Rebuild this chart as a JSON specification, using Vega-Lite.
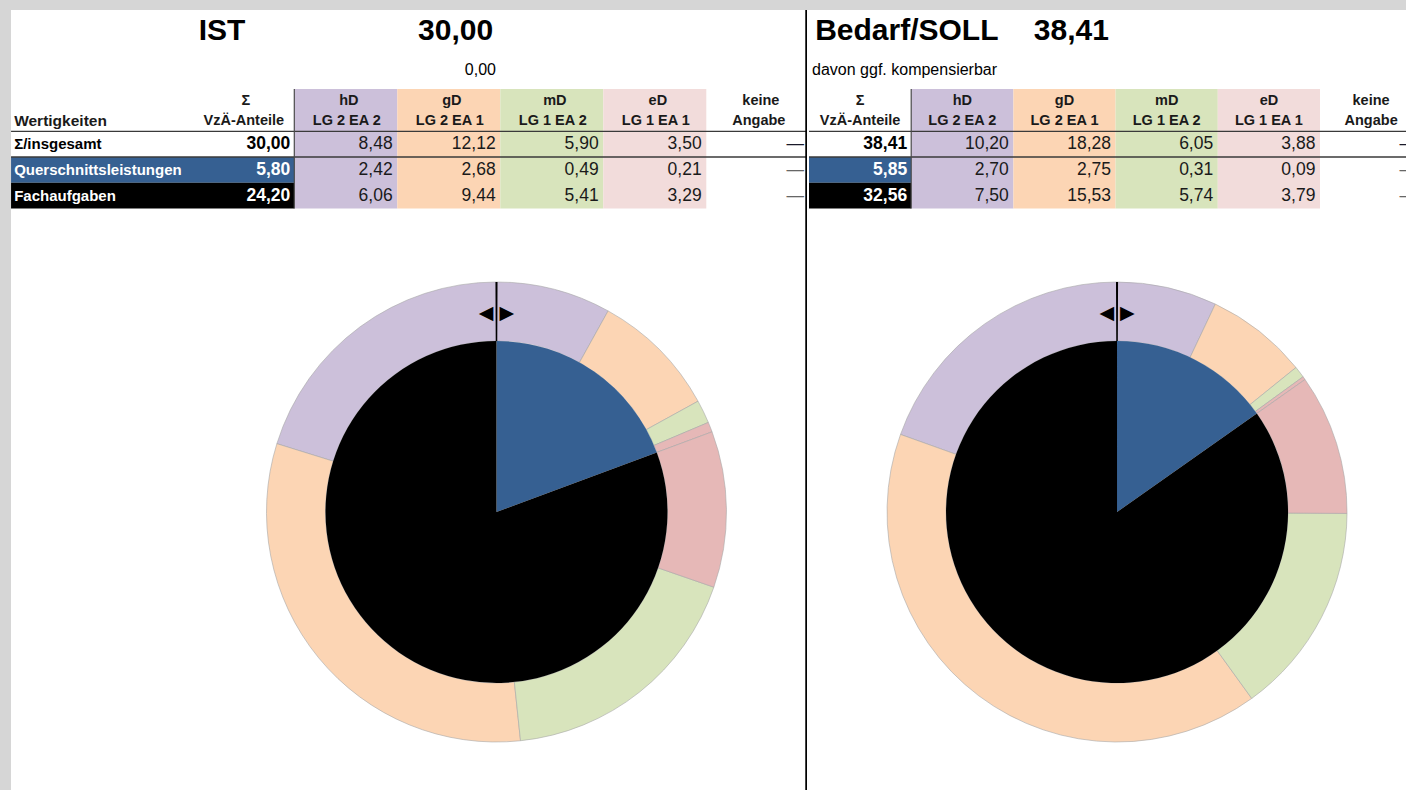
{
  "$schema": "https://vega.github.io/schema/vega-lite/v6.json",
  "background": "#d6d6d6",
  "padding": {"left": 10, "top": 8, "right": 0, "bottom": 0},
  "bounds": "flush",
  "spacing": 0,
  "columns": 2,
  "config": {
    "font": "Liberation Sans",
    "view": {"stroke": null, "fill": "white"},
    "axis": {"disable": true},
    "legend": {"disable": true},
    "concat": {"spacing": 0},
    "locale": {"number": {"decimal": ",", "thousands": ".", "grouping": [3], "currency": ["", " €"]}}
  },
  "datasets": {
    "cells": [
      {"panel": "IST", "row": "total", "col": "Σ", "v": 30.00},
      {"panel": "IST", "row": "total", "col": "hD", "v": 8.48},
      {"panel": "IST", "row": "total", "col": "gD", "v": 12.12},
      {"panel": "IST", "row": "total", "col": "mD", "v": 5.90},
      {"panel": "IST", "row": "total", "col": "eD", "v": 3.50},
      {"panel": "IST", "row": "qs", "col": "Σ", "v": 5.80, "ring": 1},
      {"panel": "IST", "row": "qs", "col": "hD", "v": 2.42, "ring": 1},
      {"panel": "IST", "row": "qs", "col": "gD", "v": 2.68, "ring": 2},
      {"panel": "IST", "row": "qs", "col": "mD", "v": 0.49, "ring": 3},
      {"panel": "IST", "row": "qs", "col": "eD", "v": 0.21, "ring": 4},
      {"panel": "IST", "row": "fach", "col": "Σ", "v": 24.20, "ring": 2},
      {"panel": "IST", "row": "fach", "col": "hD", "v": 6.06, "ring": 8},
      {"panel": "IST", "row": "fach", "col": "gD", "v": 9.44, "ring": 7},
      {"panel": "IST", "row": "fach", "col": "mD", "v": 5.41, "ring": 6},
      {"panel": "IST", "row": "fach", "col": "eD", "v": 3.29, "ring": 5},
      {"panel": "SOLL", "row": "total", "col": "Σ", "v": 38.41},
      {"panel": "SOLL", "row": "total", "col": "hD", "v": 10.20},
      {"panel": "SOLL", "row": "total", "col": "gD", "v": 18.28},
      {"panel": "SOLL", "row": "total", "col": "mD", "v": 6.05},
      {"panel": "SOLL", "row": "total", "col": "eD", "v": 3.88},
      {"panel": "SOLL", "row": "qs", "col": "Σ", "v": 5.85, "ring": 1},
      {"panel": "SOLL", "row": "qs", "col": "hD", "v": 2.70, "ring": 1},
      {"panel": "SOLL", "row": "qs", "col": "gD", "v": 2.75, "ring": 2},
      {"panel": "SOLL", "row": "qs", "col": "mD", "v": 0.31, "ring": 3},
      {"panel": "SOLL", "row": "qs", "col": "eD", "v": 0.09, "ring": 4},
      {"panel": "SOLL", "row": "fach", "col": "Σ", "v": 32.56, "ring": 2},
      {"panel": "SOLL", "row": "fach", "col": "hD", "v": 7.50, "ring": 8},
      {"panel": "SOLL", "row": "fach", "col": "gD", "v": 15.53, "ring": 7},
      {"panel": "SOLL", "row": "fach", "col": "mD", "v": 5.74, "ring": 6},
      {"panel": "SOLL", "row": "fach", "col": "eD", "v": 3.79, "ring": 5}
    ],
    "cols": [
      {"col": "Σ", "l1": "Σ", "l2": "VzÄ-Anteile"},
      {"col": "hD", "l1": "hD", "l2": "LG 2 EA 2"},
      {"col": "gD", "l1": "gD", "l2": "LG 2 EA 1"},
      {"col": "mD", "l1": "mD", "l2": "LG 1 EA 2"},
      {"col": "eD", "l1": "eD", "l2": "LG 1 EA 1"},
      {"col": "keine", "l1": "keine", "l2": "Angabe"}
    ],
    "rows": [
      {"row": "total", "label": "Σ/insgesamt"},
      {"row": "qs", "label": "Querschnittsleistungen"},
      {"row": "fach", "label": "Fachaufgaben"}
    ],
    "titles": [
      {"panel": "IST", "title": "IST", "total": 30.00, "sub": 0.00, "head": "Wertigkeiten"},
      {"panel": "SOLL", "title": "Bedarf/SOLL", "total": 38.41, "note": "davon ggf. kompensierbar"}
    ],
    "one": [{"mark": "start"}]
  },
  "resolve": {"scale": {"color": "independent", "theta": "independent"}},
  "concat": [
    {
      "width": 796,
      "height": 222,
      "layer": [
        {
          "data": {"name": "cols"},
          "transform": [{"filter": "datum.col !== 'Σ' && datum.col !== 'keine'"}],
          "mark": {"type": "rect"},
          "encoding": {
            "x": {"field": "col", "type": "nominal", "scale": {"type": "band", "domain": ["lab0", "lab", "Σ", "hD", "gD", "mD", "eD", "keine"], "range": [-25.7, 798.3], "paddingInner": 0, "paddingOuter": 0}},
            "y": {"datum": "head1", "type": "nominal", "bandPosition": 0.354, "scale": {"type": "band", "domain": ["title", "sub", "head1", "head2", "total", "qs", "fach"], "range": [18.5, 198.4], "paddingInner": 0, "paddingOuter": 0}},
            "y2": {"datum": "fach", "bandPosition": 1},
            "color": {"field": "col", "type": "nominal", "scale": {"domain": ["hD", "gD", "mD", "eD", "qs", "fach"], "range": ["#CCC0DA", "#FCD5B4", "#D8E4BC", "#F2DCDB", "#366092", "#000000"]}, "legend": null}
          }
        },
        {
          "data": {"name": "rows"},
          "transform": [{"filter": "datum.row !== 'total'"}],
          "mark": {"type": "rect"},
          "encoding": {
            "x": {"datum": "lab0", "type": "nominal", "bandPosition": 0.25},
            "x2": {"datum": "Σ", "bandPosition": 1},
            "y": {"field": "row", "type": "nominal"},
            "color": {"field": "row", "type": "nominal", "legend": null}
          }
        },
        {
          "data": {"name": "rows"},
          "transform": [{"filter": "datum.row !== 'fach'"}],
          "mark": {"type": "rule", "color": "#3a3a3a", "strokeWidth": 1.3},
          "encoding": {
            "x": {"datum": "lab0", "type": "nominal", "bandPosition": 0.25},
            "x2": {"datum": "keine", "bandPosition": 0.973},
            "y": {"field": "row", "type": "nominal", "bandPosition": 0}
          }
        },
        {
          "data": {"name": "one"},
          "mark": {"type": "rule", "color": "#4a4a4a", "strokeWidth": 1.2},
          "encoding": {
            "x": {"datum": "hD", "type": "nominal", "bandPosition": 0},
            "y": {"datum": "head1", "type": "nominal", "bandPosition": 0.354},
            "y2": {"datum": "fach", "bandPosition": 1}
          }
        },
        {
          "data": {"name": "one"},
          "mark": {"type": "rule", "color": "#000000", "strokeWidth": 2.5},
          "encoding": {
            "x": {"datum": "keine", "type": "nominal", "bandPosition": 0.973}
          }
        },
        {
          "data": {"name": "titles"},
          "transform": [{"filter": "datum.panel === 'IST'"}],
          "mark": {"type": "text", "fontSize": 30, "fontWeight": "bold", "align": "center", "baseline": "middle", "color": "#000000"},
          "encoding": {
            "x": {"datum": "Σ", "type": "nominal", "bandPosition": 0.298},
            "y": {"datum": "title", "type": "nominal", "bandPosition": 0.1},
            "text": {"field": "title"}
          }
        },
        {
          "data": {"name": "titles"},
          "transform": [{"filter": "datum.panel === 'IST'"}],
          "mark": {"type": "text", "fontSize": 30, "fontWeight": "bold", "align": "right", "baseline": "middle", "color": "#000000"},
          "encoding": {
            "x": {"datum": "gD", "type": "nominal", "bandPosition": 0.93},
            "y": {"datum": "title", "type": "nominal", "bandPosition": 0.1},
            "text": {"field": "total", "type": "quantitative", "format": ".2f"}
          }
        },
        {
          "data": {"name": "titles"},
          "transform": [{"filter": "datum.panel === 'IST'"}],
          "mark": {"type": "text", "fontSize": 16, "align": "right", "baseline": "middle", "color": "#000000"},
          "encoding": {
            "x": {"datum": "gD", "type": "nominal", "bandPosition": 0.958},
            "y": {"datum": "sub", "type": "nominal", "bandPosition": 0.61},
            "text": {"field": "sub", "type": "quantitative", "format": ".2f"}
          }
        },
        {
          "data": {"name": "cols"},
          "mark": {"type": "text", "fontSize": 14.5, "fontWeight": "bold", "align": "center", "baseline": "middle", "color": "#1a1a1a"},
          "encoding": {
            "x": {"field": "col", "type": "nominal", "bandPosition": 0.53},
            "y": {"datum": "head1", "type": "nominal", "bandPosition": 0.82},
            "text": {"field": "l1"}
          }
        },
        {
          "data": {"name": "cols"},
          "mark": {"type": "text", "fontSize": 14.5, "fontWeight": "bold", "align": "center", "baseline": "middle", "color": "#1a1a1a"},
          "encoding": {
            "x": {"field": "col", "type": "nominal", "bandPosition": 0.51},
            "y": {"datum": "head2", "type": "nominal", "bandPosition": 0.6},
            "text": {"field": "l2"}
          }
        },
        {
          "data": {"name": "titles"},
          "transform": [{"filter": "datum.panel === 'IST'"}],
          "mark": {"type": "text", "fontSize": 15.5, "fontWeight": "bold", "align": "left", "baseline": "middle", "color": "#1a1a1a"},
          "encoding": {
            "x": {"datum": "lab0", "type": "nominal", "bandPosition": 0.28},
            "y": {"datum": "head2", "type": "nominal", "bandPosition": 0.6},
            "text": {"field": "head"}
          }
        },
        {
          "data": {"name": "rows"},
          "mark": {"type": "text", "fontSize": 15, "fontWeight": "bold", "align": "left", "baseline": "middle"},
          "encoding": {
            "x": {"datum": "lab0", "type": "nominal", "bandPosition": 0.28},
            "y": {"field": "row", "type": "nominal"},
            "text": {"field": "label"},
            "color": {"condition": {"test": "datum.row !== 'total'", "value": "#ffffff"}, "value": "#000000"}
          }
        },
        {
          "data": {"name": "cells"},
          "transform": [{"filter": "datum.panel === 'IST' && datum.col === 'Σ'"}],
          "mark": {"type": "text", "fontSize": 17.5, "fontWeight": "bold", "align": "right", "baseline": "middle"},
          "encoding": {
            "x": {"field": "col", "type": "nominal", "bandPosition": 0.961},
            "y": {"field": "row", "type": "nominal"},
            "text": {"field": "v", "type": "quantitative", "format": ".2f"},
            "color": {"condition": {"test": "datum.row !== 'total'", "value": "#ffffff"}, "value": "#000000"}
          }
        },
        {
          "data": {"name": "cells"},
          "transform": [{"filter": "datum.panel === 'IST' && datum.col !== 'Σ'"}],
          "mark": {"type": "text", "fontSize": 17.5, "align": "right", "baseline": "middle", "color": "#1a1a1a"},
          "encoding": {
            "x": {"field": "col", "type": "nominal", "bandPosition": 0.955},
            "y": {"field": "row", "type": "nominal"},
            "text": {"field": "v", "type": "quantitative", "format": ".2f"}
          }
        },
        {
          "data": {"name": "rows"},
          "mark": {"type": "text", "text": "—", "fontSize": 17.5, "align": "right", "baseline": "middle"},
          "encoding": {
            "x": {"datum": "keine", "type": "nominal", "bandPosition": 0.948},
            "y": {"field": "row", "type": "nominal"},
            "color": {"condition": {"test": "datum.row === 'total'", "value": "#1a1a2a"}, "value": "#666666"}
          }
        }
      ]
    },
    {
      "width": 600,
      "height": 222,
      "layer": [
        {
          "data": {"name": "cols"},
          "transform": [{"filter": "datum.col !== 'Σ' && datum.col !== 'keine'"}],
          "mark": {"type": "rect", "clip": true},
          "encoding": {
            "x": {"field": "col", "type": "nominal", "scale": {"type": "band", "domain": ["Σ", "hD", "gD", "mD", "eD", "keine"], "range": [2, 615.2], "paddingInner": 0, "paddingOuter": 0}},
            "y": {"datum": "head1", "type": "nominal", "bandPosition": 0.354, "scale": {"type": "band", "domain": ["title", "sub", "head1", "head2", "total", "qs", "fach"], "range": [18.5, 198.4], "paddingInner": 0, "paddingOuter": 0}},
            "y2": {"datum": "fach", "bandPosition": 1},
            "color": {"field": "col", "type": "nominal", "scale": {"domain": ["hD", "gD", "mD", "eD", "qs", "fach"], "range": ["#CCC0DA", "#FCD5B4", "#D8E4BC", "#F2DCDB", "#366092", "#000000"]}, "legend": null}
          }
        },
        {
          "data": {"name": "rows"},
          "transform": [{"filter": "datum.row !== 'total'"}],
          "mark": {"type": "rect", "clip": true},
          "encoding": {
            "x": {"datum": "Σ", "type": "nominal"},
            "y": {"field": "row", "type": "nominal"},
            "color": {"field": "row", "type": "nominal", "legend": null}
          }
        },
        {
          "data": {"name": "rows"},
          "transform": [{"filter": "datum.row !== 'fach'"}],
          "mark": {"type": "rule", "color": "#3a3a3a", "strokeWidth": 1.3, "clip": true},
          "encoding": {
            "x": {"datum": "Σ", "type": "nominal", "bandPosition": 0},
            "x2": {"datum": "keine", "bandPosition": 1},
            "y": {"field": "row", "type": "nominal", "bandPosition": 0}
          }
        },
        {
          "data": {"name": "one"},
          "mark": {"type": "rule", "color": "#4a4a4a", "strokeWidth": 1.2, "clip": true},
          "encoding": {
            "x": {"datum": "hD", "type": "nominal", "bandPosition": 0},
            "y": {"datum": "head1", "type": "nominal", "bandPosition": 0.354},
            "y2": {"datum": "fach", "bandPosition": 1}
          }
        },
        {
          "data": {"name": "titles"},
          "transform": [{"filter": "datum.panel === 'SOLL'"}],
          "mark": {"type": "text", "fontSize": 30, "fontWeight": "bold", "align": "left", "baseline": "middle", "color": "#000000", "clip": true},
          "encoding": {
            "x": {"datum": "Σ", "type": "nominal", "bandPosition": 0.06},
            "y": {"datum": "title", "type": "nominal", "bandPosition": 0.1},
            "text": {"field": "title"}
          }
        },
        {
          "data": {"name": "titles"},
          "transform": [{"filter": "datum.panel === 'SOLL'"}],
          "mark": {"type": "text", "fontSize": 30, "fontWeight": "bold", "align": "left", "baseline": "middle", "color": "#000000", "clip": true},
          "encoding": {
            "x": {"datum": "gD", "type": "nominal", "bandPosition": 0.2},
            "y": {"datum": "title", "type": "nominal", "bandPosition": 0.1},
            "text": {"field": "total", "type": "quantitative", "format": ".2f"}
          }
        },
        {
          "data": {"name": "titles"},
          "transform": [{"filter": "datum.panel === 'SOLL'"}],
          "mark": {"type": "text", "fontSize": 16, "align": "left", "baseline": "middle", "color": "#000000", "clip": true},
          "encoding": {
            "x": {"datum": "Σ", "type": "nominal", "bandPosition": 0.03},
            "y": {"datum": "sub", "type": "nominal", "bandPosition": 0.61},
            "text": {"field": "note"}
          }
        },
        {
          "data": {"name": "cols"},
          "mark": {"type": "text", "fontSize": 14.5, "fontWeight": "bold", "align": "center", "baseline": "middle", "color": "#1a1a1a", "clip": true},
          "encoding": {
            "x": {"field": "col", "type": "nominal", "bandPosition": 0.5},
            "y": {"datum": "head1", "type": "nominal", "bandPosition": 0.82},
            "text": {"field": "l1"}
          }
        },
        {
          "data": {"name": "cols"},
          "mark": {"type": "text", "fontSize": 14.5, "fontWeight": "bold", "align": "center", "baseline": "middle", "color": "#1a1a1a", "clip": true},
          "encoding": {
            "x": {"field": "col", "type": "nominal", "bandPosition": 0.5},
            "y": {"datum": "head2", "type": "nominal", "bandPosition": 0.6},
            "text": {"field": "l2"}
          }
        },
        {
          "data": {"name": "cells"},
          "transform": [{"filter": "datum.panel === 'SOLL' && datum.col === 'Σ'"}],
          "mark": {"type": "text", "fontSize": 17.5, "fontWeight": "bold", "align": "right", "baseline": "middle", "clip": true},
          "encoding": {
            "x": {"field": "col", "type": "nominal", "bandPosition": 0.96},
            "y": {"field": "row", "type": "nominal"},
            "text": {"field": "v", "type": "quantitative", "format": ".2f"},
            "color": {"condition": {"test": "datum.row !== 'total'", "value": "#ffffff"}, "value": "#000000"}
          }
        },
        {
          "data": {"name": "cells"},
          "transform": [{"filter": "datum.panel === 'SOLL' && datum.col !== 'Σ'"}],
          "mark": {"type": "text", "fontSize": 17.5, "align": "right", "baseline": "middle", "color": "#1a1a1a", "clip": true},
          "encoding": {
            "x": {"field": "col", "type": "nominal", "bandPosition": 0.955},
            "y": {"field": "row", "type": "nominal"},
            "text": {"field": "v", "type": "quantitative", "format": ".2f"}
          }
        },
        {
          "data": {"name": "rows"},
          "mark": {"type": "text", "text": "—", "fontSize": 17.5, "align": "right", "baseline": "middle", "clip": true},
          "encoding": {
            "x": {"datum": "keine", "type": "nominal", "bandPosition": 0.948},
            "y": {"field": "row", "type": "nominal"},
            "color": {"condition": {"test": "datum.row === 'total'", "value": "#1a1a2a"}, "value": "#666666"}
          }
        }
      ]
    },
    {
      "width": 796,
      "height": 560,
      "layer": [
        {
          "data": {"name": "cells"},
          "transform": [{"filter": "datum.panel === 'IST' && datum.row !== 'total' && datum.col !== 'Σ'"}],
          "mark": {"type": "arc", "radius": 230, "radius2": 171, "stroke": "#a8a8a8", "strokeWidth": 0.6},
          "encoding": {
            "x": {"datum": "gD", "type": "nominal", "bandPosition": 0.963, "scale": {"type": "band", "domain": ["lab0", "lab", "Σ", "hD", "gD", "mD", "eD", "keine"], "range": [-25.7, 798.3], "paddingInner": 0, "paddingOuter": 0}},
            "theta": {"field": "v", "type": "quantitative", "stack": true},
            "order": {"field": "ring", "type": "quantitative"},
            "color": {"field": "col", "type": "nominal", "scale": {"domain": ["hD", "gD", "mD", "eD", "qs", "fach"], "range": ["#CCC0DA", "#FCD5B4", "#D8E4BC", "#E6B8B7", "#366092", "#000000"]}, "legend": null}
          }
        },
        {
          "data": {"name": "cells"},
          "transform": [{"filter": "datum.panel === 'IST' && datum.row !== 'total' && datum.col === 'Σ'"}],
          "mark": {"type": "arc", "radius": 171},
          "encoding": {
            "x": {"datum": "gD", "type": "nominal", "bandPosition": 0.963},
            "theta": {"field": "v", "type": "quantitative", "stack": true},
            "order": {"field": "ring", "type": "quantitative"},
            "color": {"field": "row", "type": "nominal", "legend": null}
          }
        },
        {
          "data": {"name": "one"},
          "mark": {"type": "arc", "theta": -0.0045, "theta2": 0.0045, "radius": 230, "radius2": 171, "color": "#000000"},
          "encoding": {
            "x": {"datum": "gD", "type": "nominal", "bandPosition": 0.963}
          }
        },
        {
          "data": {"name": "one"},
          "mark": {"type": "text", "text": "◀", "font": "DejaVu Sans", "fontSize": 19, "align": "right", "baseline": "middle", "radius": 199.5, "theta": 0, "dx": -3, "color": "#000000"},
          "encoding": {
            "x": {"datum": "gD", "type": "nominal", "bandPosition": 0.963}
          }
        },
        {
          "data": {"name": "one"},
          "mark": {"type": "text", "text": "▶", "font": "DejaVu Sans", "fontSize": 19, "align": "left", "baseline": "middle", "radius": 199.5, "theta": 0, "dx": 3, "color": "#000000"},
          "encoding": {
            "x": {"datum": "gD", "type": "nominal", "bandPosition": 0.963}
          }
        },
        {
          "data": {"name": "one"},
          "mark": {"type": "rule", "color": "#000000", "strokeWidth": 2.5},
          "encoding": {
            "x": {"datum": "keine", "type": "nominal", "bandPosition": 0.973}
          }
        }
      ]
    },
    {
      "width": 600,
      "height": 560,
      "layer": [
        {
          "data": {"name": "cells"},
          "transform": [{"filter": "datum.panel === 'SOLL' && datum.row !== 'total' && datum.col !== 'Σ'"}],
          "mark": {"type": "arc", "radius": 230, "radius2": 171, "stroke": "#a8a8a8", "strokeWidth": 0.6},
          "encoding": {
            "x": {"datum": "mD", "type": "nominal", "bandPosition": 0.014, "scale": {"type": "band", "domain": ["Σ", "hD", "gD", "mD", "eD", "keine"], "range": [2, 615.2], "paddingInner": 0, "paddingOuter": 0}},
            "theta": {"field": "v", "type": "quantitative", "stack": true},
            "order": {"field": "ring", "type": "quantitative"},
            "color": {"field": "col", "type": "nominal", "scale": {"domain": ["hD", "gD", "mD", "eD", "qs", "fach"], "range": ["#CCC0DA", "#FCD5B4", "#D8E4BC", "#E6B8B7", "#366092", "#000000"]}, "legend": null}
          }
        },
        {
          "data": {"name": "cells"},
          "transform": [{"filter": "datum.panel === 'SOLL' && datum.row !== 'total' && datum.col === 'Σ'"}],
          "mark": {"type": "arc", "radius": 171},
          "encoding": {
            "x": {"datum": "mD", "type": "nominal", "bandPosition": 0.014},
            "theta": {"field": "v", "type": "quantitative", "stack": true},
            "order": {"field": "ring", "type": "quantitative"},
            "color": {"field": "row", "type": "nominal", "legend": null}
          }
        },
        {
          "data": {"name": "one"},
          "mark": {"type": "arc", "theta": -0.0045, "theta2": 0.0045, "radius": 230, "radius2": 171, "color": "#000000"},
          "encoding": {
            "x": {"datum": "mD", "type": "nominal", "bandPosition": 0.014}
          }
        },
        {
          "data": {"name": "one"},
          "mark": {"type": "text", "text": "◀", "font": "DejaVu Sans", "fontSize": 19, "align": "right", "baseline": "middle", "radius": 199.5, "theta": 0, "dx": -3, "color": "#000000"},
          "encoding": {
            "x": {"datum": "mD", "type": "nominal", "bandPosition": 0.014}
          }
        },
        {
          "data": {"name": "one"},
          "mark": {"type": "text", "text": "▶", "font": "DejaVu Sans", "fontSize": 19, "align": "left", "baseline": "middle", "radius": 199.5, "theta": 0, "dx": 3, "color": "#000000"},
          "encoding": {
            "x": {"datum": "mD", "type": "nominal", "bandPosition": 0.014}
          }
        }
      ]
    }
  ]
}
